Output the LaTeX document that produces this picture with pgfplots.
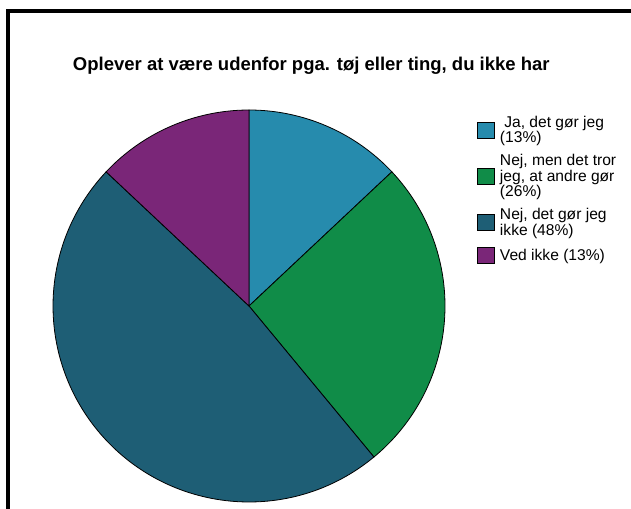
\documentclass[border=0pt]{standalone}
\usepackage{pgfplots}
\pgfplotsset{compat=1.18}
\usepackage{fontspec}
\setmainfont{Liberation Sans}

\definecolor{sliceA}{RGB}{38,139,173}
\definecolor{sliceB}{RGB}{16,140,72}
\definecolor{sliceC}{RGB}{30,94,117}
\definecolor{sliceD}{RGB}{122,38,120}

\begin{document}
\begin{tikzpicture}
\useasboundingbox (0,0) rectangle (631bp,509bp);
\draw[line width=4bp] (8bp,0) -- (8bp,498bp) -- (631bp,498bp);
\begin{axis}[
  hide axis,
  x=196bp, y=196bp,
  xmin=-1, xmax=1, ymin=-1, ymax=1,
  anchor=south west, at={(53bp,7bp)},
  clip=false,
  title={Oplever at være udenfor pga. tøj eller ting, du ikke har},
  title style={font=\bfseries\fontsize{18.5bp}{22bp}\selectfont, anchor=base, at={(0.659,1.0867)}},
  legend cell align=left,
  legend style={draw=none, fill=none, inner sep=0pt, anchor=north west, at={(1.0816,0.985)},
    font=\fontsize{15.6bp}{15.3bp}\selectfont,
    nodes={align=left, inner xsep=0pt, inner ysep=0pt},
    row sep=10.5bp, column sep=5bp},
  legend image code/.code={\draw[#1, draw=black, line width=0.8bp] (0bp,-8bp) rectangle (17bp,8bp);},
]
% slices, clockwise from 12 o'clock (percent)
\xdef\cum{90}
\foreach \v/\c in {13/sliceA, 26/sliceB, 48/sliceC, 13/sliceD}{%
  \pgfmathsetmacro\b{\cum-3.6*\v}%
  \edef\temp{\noexpand\filldraw[fill=\c, draw=black, line width=0.8bp]
    (axis cs:0,0) -- (axis cs:{cos(\cum)},{sin(\cum)})
    arc[start angle=\cum, end angle=\b, radius=196bp] -- cycle;}%
  \temp
  \xdef\cum{\b}%
}
\addlegendimage{fill=sliceA}
\addlegendentry{\ Ja, det gør jeg\\(13\%)}
\addlegendimage{fill=sliceB}
\addlegendentry{Nej, men det tror\\jeg, at andre gør\\(26\%)}
\addlegendimage{fill=sliceC}
\addlegendentry{Nej, det gør jeg\\ikke (48\%)}
\addlegendimage{fill=sliceD}
\addlegendentry{Ved ikke (13\%)}
\end{axis}
\end{tikzpicture}
\end{document}
